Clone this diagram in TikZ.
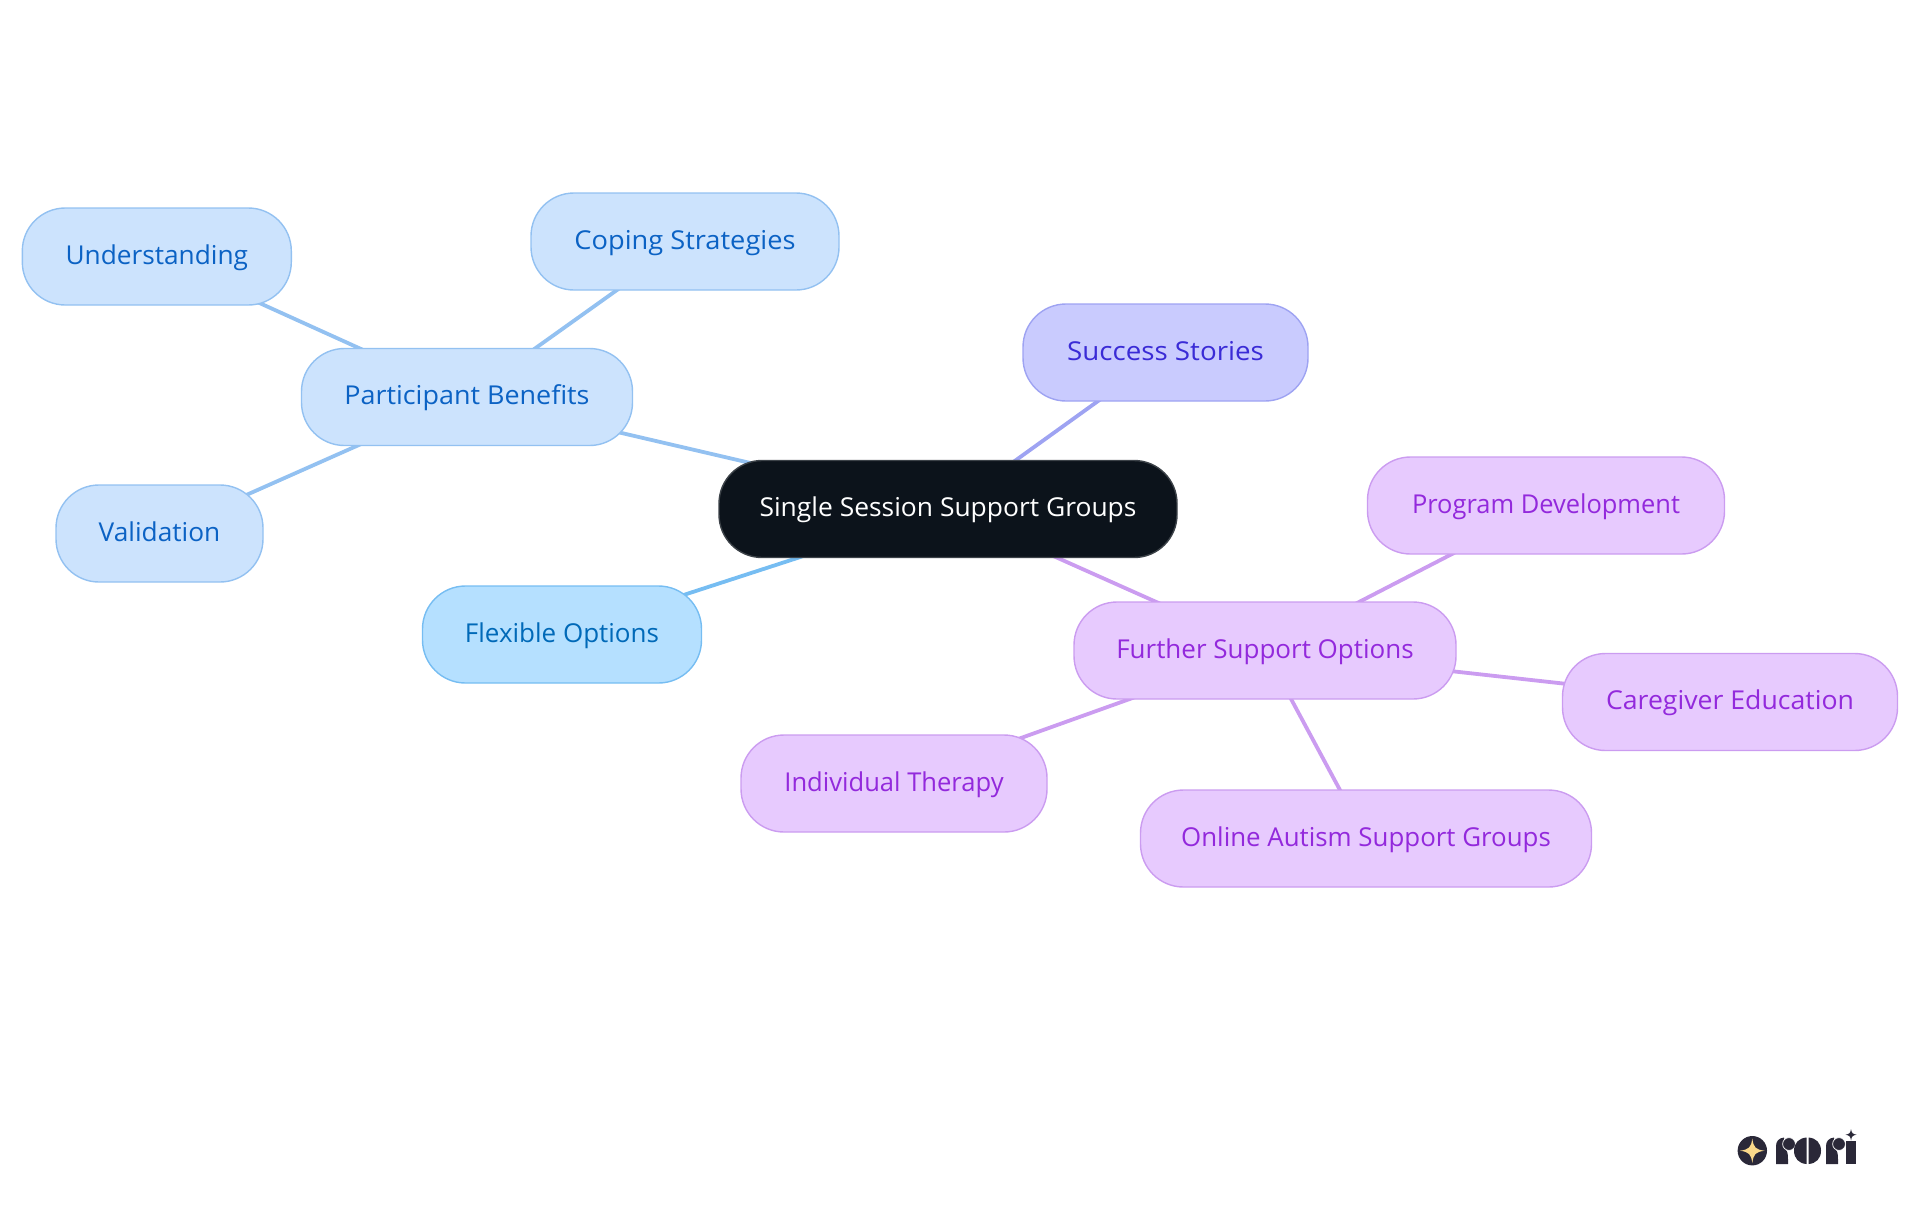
\documentclass[tikz,border=0pt]{standalone}
\usepackage{fontspec}
\setmainfont{Open Sans}
\usetikzlibrary{backgrounds}
\definecolor{bluefill}{HTML}{CCE3FD}
\definecolor{blueline}{HTML}{93C1F1}
\definecolor{bluetext}{HTML}{0B62C4}
\definecolor{skyfill}{HTML}{B5E0FF}
\definecolor{skyline}{HTML}{76BDF2}
\definecolor{skytext}{HTML}{0069B8}
\definecolor{indfill}{HTML}{C9CBFE}
\definecolor{indline}{HTML}{9EA3F2}
\definecolor{indtext}{HTML}{3A2BD6}
\definecolor{purfill}{HTML}{E7CAFE}
\definecolor{purline}{HTML}{CB9CF0}
\definecolor{purtext}{HTML}{9329DC}
\definecolor{rootfill}{HTML}{0C131B}
\definecolor{rootline}{HTML}{3C4248}
\definecolor{logodark}{HTML}{2A2838}
\definecolor{logostar}{HTML}{FBD98A}
\newcommand{\sx}[2]{\scalebox{#1}[1]{#2}}
\tikzset{
 x=0.5pt,y=-0.5pt,
 mm/.style={rectangle,rounded corners=21.5pt,line width=0.7pt,inner sep=0pt,font=\fontsize{13}{16}\selectfont,minimum height=48.5pt,text height=10.6pt,text depth=3.1pt},
 bluenode/.style={mm,draw=blueline,fill=bluefill,text=bluetext},
 skynode/.style={mm,draw=skyline,fill=skyfill,text=skytext},
 indnode/.style={mm,draw=indline,fill=indfill,text=indtext},
 purnode/.style={mm,draw=purline,fill=purfill,text=purtext},
 rootnode/.style={mm,draw=rootline,fill=rootfill,text=white},
 link/.style={line width=1.9pt},
 logoink/.style={fill=logodark},
 logodot/.style={fill=logodark,draw=white,line width=0.35pt},
}
\begin{document}
\begin{tikzpicture}
\useasboundingbox (0,0) rectangle (1920,1215);
\node[rootnode,minimum width=229pt] (root) at (948,509) {\sx{1.016}{Single Session Support Groups}};
\node[bluenode,minimum width=165.5pt] (part) at (467,397) {\sx{1.036}{Participant Benefits}};
\node[bluenode,minimum width=134.5pt] (under) at (156.8,256.5) {\sx{1.01}{Understanding}};
\node[bluenode,minimum width=154pt] (cope) at (685,241.5) {\sx{1.047}{Coping Strategies}};
\node[bluenode,minimum width=103.5pt] (valid) at (159.5,533.5) {\sx{1.01}{Validation}};
\node[skynode,minimum width=139.5pt] (flex) at (562,634.5) {Flexible Options};
\node[indnode,minimum width=142.5pt] (succ) at (1165.5,352.5) {\sx{1.067}{Success Stories}};
\node[purnode,minimum width=191pt] (furth) at (1265,650.5) {Further Support Options};
\node[purnode,minimum width=178.5pt] (prog) at (1546,505.5) {\sx{.978}{Program Development}};
\node[purnode,minimum width=167.5pt] (care) at (1730,702) {\sx{1.025}{Caregiver Education}};
\node[purnode,minimum width=153pt] (indiv) at (894,783.5) {\sx{.983}{Individual Therapy}};
\node[purnode,minimum width=225.5pt] (online) at (1366,838.5) {\sx{.995}{Online Autism Support Groups}};
\begin{scope}[on background layer]
\draw[link,blueline] (root.center) -- (part.center);
\draw[link,blueline] (part.center) -- (under.center);
\draw[link,blueline] (part.center) -- (cope.center);
\draw[link,blueline] (part.center) -- (valid.center);
\draw[link,skyline] (root.center) -- (flex.center);
\draw[link,indline] (root.center) -- (succ.center);
\draw[link,purline] (root.center) -- (furth.center);
\draw[link,purline] (furth.center) -- (prog.center);
\draw[link,purline] (furth.center) -- (care.center);
\draw[link,purline] (furth.center) -- (indiv.center);
\draw[link,purline] (furth.center) -- (online.center);
\end{scope}
% logo
\fill[logodark] (1752.3,1150.7) circle (14.7);
\fill[logostar] (1752.3,1138.5) .. controls (1753.5,1147.5) and (1755.5,1149.5) .. (1764.5,1150.7)
 .. controls (1755.5,1152) and (1753.5,1154) .. (1752.3,1163)
 .. controls (1751,1154) and (1749,1152) .. (1740,1150.7)
 .. controls (1749,1149.5) and (1751,1147.5) .. (1752.3,1138.5) -- cycle;
% r
\fill[logoink] (1776,1164) -- (1776,1146) .. controls (1776,1141) and (1779,1138) .. (1784,1137.5) -- (1786,1150) .. controls (1788,1152) and (1788,1156) .. (1788,1164) -- cycle;
\path[logodot] (1789,1144) circle (6.4);
% o
\fill[logoink] (1806.5,1137.5) .. controls (1799,1138) and (1794,1143) .. (1794,1150.7) .. controls (1794,1158.5) and (1799,1163.5) .. (1806.5,1164) -- cycle;
\fill[logoink] (1808.5,1137.5) .. controls (1816,1138) and (1821,1143) .. (1821,1150.7) .. controls (1821,1158.5) and (1816,1163.5) .. (1808.5,1164) -- cycle;
% r
\fill[logoink] (1826,1164) -- (1826,1146) .. controls (1826,1141) and (1829,1138) .. (1834,1137.5) -- (1836,1150) .. controls (1838,1152) and (1838,1156) .. (1838,1164) -- cycle;
\path[logodot] (1839,1144) circle (6.4);
% i
\fill[logoink] (1846,1141) -- (1856,1141) -- (1856,1164) -- (1846,1164) -- cycle;
\fill[logoink] (1851,1129) .. controls (1851.6,1133) and (1852.5,1134) .. (1856.5,1134.7) .. controls (1852.5,1135.4) and (1851.6,1136.4) .. (1851,1140.5) .. controls (1850.4,1136.4) and (1849.5,1135.4) .. (1845.5,1134.7) .. controls (1849.5,1134) and (1850.4,1133) .. (1851,1129) -- cycle;
\end{tikzpicture}
\end{document}
